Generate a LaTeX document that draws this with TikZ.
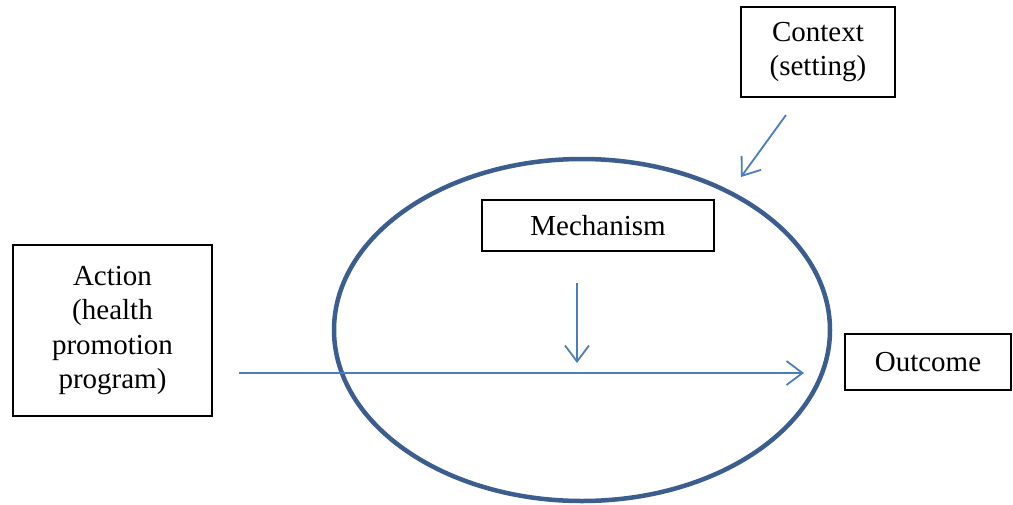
\documentclass[tikz,border=0pt]{standalone}
\usepackage{fontspec}
\setmainfont{Liberation Serif}
\usetikzlibrary{arrows.meta}
\definecolor{ellblue}{HTML}{3B5E8E}
\definecolor{arrblue}{HTML}{4A7EBB}
\begin{document}
\begin{tikzpicture}[x=1pt,y=-1pt,
  box/.style={draw=black,line width=1.2pt,align=center,inner sep=0pt,
    font=\fontsize{29}{34.5}\selectfont},
  conn/.style={draw=arrblue,line width=1.8pt,-{Straight Barb[length=16pt,width=24pt,line width=1.8pt]}}]
\useasboundingbox (0,0) rectangle (1013,504);
\draw[ellblue,line width=4.5pt] (582,330) ellipse [x radius=248, y radius=171];
\node[box,minimum width=154pt,minimum height=90pt] (ctx) at (818,52) {Context\\(setting)};
\node[box,minimum width=199pt,minimum height=171pt] (act) at (112.5,330.5) {Action\\(health\\promotion\\program)};
\node[box,minimum width=232pt,minimum height=51pt] (mech) at (598,225.5) {Mechanism};
\node[box,minimum width=166pt,minimum height=56pt] (out) at (928,362) {Outcome};
\coordinate (hs) at (239,373);
\coordinate (he) at (804,373);
\coordinate (vs) at (577,283);
\coordinate (ve) at (577,363);
\coordinate (cs) at (786,115);
\coordinate (ce) at (741,177);
\draw[conn] (hs) -- (he);
\draw[conn] (vs) -- (ve);
\draw[conn] (cs) -- (ce);
\end{tikzpicture}
\end{document}
